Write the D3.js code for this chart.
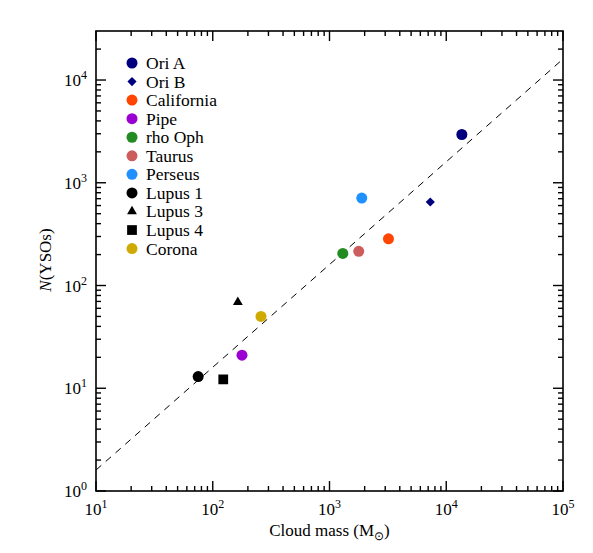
<!DOCTYPE html>
<html>
<head>
<meta charset="utf-8">
<script src="https://cdn.jsdelivr.net/npm/d3@7"></script>
<style>
  body { margin: 0; background: #fff; }
  text { font-family: "Liberation Serif", "Times New Roman", serif; fill: #000; }
</style>
</head>
<body>
<div class="chart"></div>
<script>
var svgWidth = 593;
var svgHeight = 553;

var margin = { top: 31, right: 30, bottom: 62, left: 96 };
var width = svgWidth - margin.left - margin.right;
var height = svgHeight - margin.top - margin.bottom;

// cloud data
var clouds = ["Ori A", "Ori B", "California", "Pipe", "rho Oph", "Taurus", "Perseus", "Lupus 1", "Lupus 3", "Lupus 4", "Corona"];
var cloudMass = [13600, 7300, 3200, 178, 1300, 1780, 1890, 75, 164, 123, 259];
var ysoCount = [2950, 650, 285, 21, 205, 215, 710, 13, 69, 12.2, 50];
var colors = ["#00007f", "#00007f", "#ff4500", "#9b00d3", "#228b22", "#cd5c5c", "#1e90ff", "#000000", "#000000", "#000000", "#cfaa00"];
var shapes = ["circle", "diamond", "circle", "circle", "circle", "circle", "circle", "circle", "triangle", "square", "circle"];

// dashed relation N = 0.16 M
var fitMass = [10, 100000];
var fitN = [1.6, 16000];

var xTickVals = [10, 100, 1000, 10000, 100000];
var yTickVals = [1, 10, 100, 1000, 10000];

var svg = d3.select(".chart")
  .append("svg")
  .attr("width", svgWidth)
  .attr("height", svgHeight);

var chartGroup = svg.append("g")
  .attr("transform", `translate(${margin.left}, ${margin.top})`);

var x = d3.scaleLog().domain([10, 100000]).range([0, width]);
var y = d3.scaleLog().domain([1, 30000]).range([height, 0]);

// minor tick values
function minors(lo, hi) {
  var out = [];
  for (var e = Math.floor(Math.log10(lo)); e < Math.ceil(Math.log10(hi)); e++) {
    for (var k = 2; k <= 9; k++) {
      var v = k * Math.pow(10, e);
      if (v > lo && v < hi) out.push(v);
    }
  }
  return out;
}

// ticks on all four sides, pointing in
function drawTicks(sel, scale, vals, len, orient) {
  vals.forEach(function(v) {
    var p = scale(v);
    if (orient === "bottom") sel.append("line").attr("x1", p).attr("x2", p).attr("y1", height).attr("y2", height - len);
    if (orient === "top") sel.append("line").attr("x1", p).attr("x2", p).attr("y1", 0).attr("y2", len);
    if (orient === "left") sel.append("line").attr("x1", 0).attr("x2", len).attr("y1", p).attr("y2", p);
    if (orient === "right") sel.append("line").attr("x1", width).attr("x2", width - len).attr("y1", p).attr("y2", p);
  });
}

var tickGroup = chartGroup.append("g")
  .attr("stroke", "#000")
  .attr("stroke-width", 1.4);

["bottom", "top"].forEach(function(o) {
  drawTicks(tickGroup, x, xTickVals, 10, o);
  drawTicks(tickGroup, x, minors(10, 100000), 5, o);
});
["left", "right"].forEach(function(o) {
  drawTicks(tickGroup, y, yTickVals, 10, o);
  drawTicks(tickGroup, y, minors(1, 30000), 5, o);
});

// frame
chartGroup.append("rect")
  .attr("width", width)
  .attr("height", height)
  .attr("fill", "none")
  .attr("stroke", "#000")
  .attr("stroke-width", 1.6);

// tick labels
xTickVals.forEach(function(v) {
  var t = chartGroup.append("text")
    .attr("x", x(v))
    .attr("y", height + 24)
    .attr("text-anchor", "middle")
    .style("font-size", "17px");
  t.append("tspan").text("10");
  t.append("tspan").attr("dy", -7).style("font-size", "12px").text(Math.round(Math.log10(v)));
});

yTickVals.forEach(function(v) {
  var t = chartGroup.append("text")
    .attr("x", -9)
    .attr("y", y(v) + 6)
    .attr("text-anchor", "end")
    .style("font-size", "17px");
  t.append("tspan").text("10");
  t.append("tspan").attr("dy", -7).style("font-size", "12px").text(Math.round(Math.log10(v)));
});

// axis titles
var xLabel = svg.append("text")
  .attr("x", margin.left + width / 2)
  .attr("y", 536)
  .attr("text-anchor", "middle")
  .style("font-size", "17px");
xLabel.append("tspan").text("Cloud mass (M");
xLabel.append("tspan").attr("dy", 4).style("font-size", "12px").text("\u2299");
xLabel.append("tspan").attr("dy", -4).text(")");

var yLabel = svg.append("text")
  .attr("transform", "rotate(-90)")
  .attr("x", -260)
  .attr("y", 51)
  .attr("text-anchor", "middle")
  .style("font-size", "17px");
yLabel.append("tspan").style("font-style", "italic").text("N");
yLabel.append("tspan").text("(YSOs)");

// dashed relation
var line = d3.line()
  .x(function(d, i) { return x(fitMass[i]); })
  .y(function(d, i) { return y(fitN[i]); });

chartGroup.append("path")
  .datum(fitMass)
  .attr("d", line)
  .attr("fill", "none")
  .attr("stroke", "#000")
  .attr("stroke-width", 1)
  .attr("stroke-dasharray", "7,6");

var symbolFor = {
  circle: d3.symbol().type(d3.symbolCircle).size(95),
  diamond: d3.symbol().type(d3.symbolSquare).size(42),
  triangle: d3.symbol().type(d3.symbolTriangle).size(42),
  square: d3.symbol().type(d3.symbolSquare).size(95)
};
function rot(shape) { return shape === "diamond" ? " rotate(45)" : ""; }

// points
chartGroup.selectAll(".pt")
  .data(clouds)
  .enter()
  .append("path")
  .attr("class", "pt")
  .attr("transform", function(d, i) { return `translate(${x(cloudMass[i])}, ${y(ysoCount[i])})` + rot(shapes[i]); })
  .attr("d", function(d, i) { return symbolFor[shapes[i]](); })
  .attr("fill", function(d, i) { return colors[i]; });

// legend
var legend = chartGroup.append("g")
  .attr("transform", "translate(36, 32)");

clouds.forEach(function(name, i) {
  var row = legend.append("g").attr("transform", `translate(0, ${i * 18.56})`);
  row.append("path")
    .attr("transform", rot(shapes[i]))
    .attr("d", symbolFor[shapes[i]]())
    .attr("fill", colors[i]);
  row.append("text")
    .attr("x", 14)
    .attr("y", 6)
    .style("font-size", "17.5px")
    .text(name);
});
</script>
</body>
</html>
